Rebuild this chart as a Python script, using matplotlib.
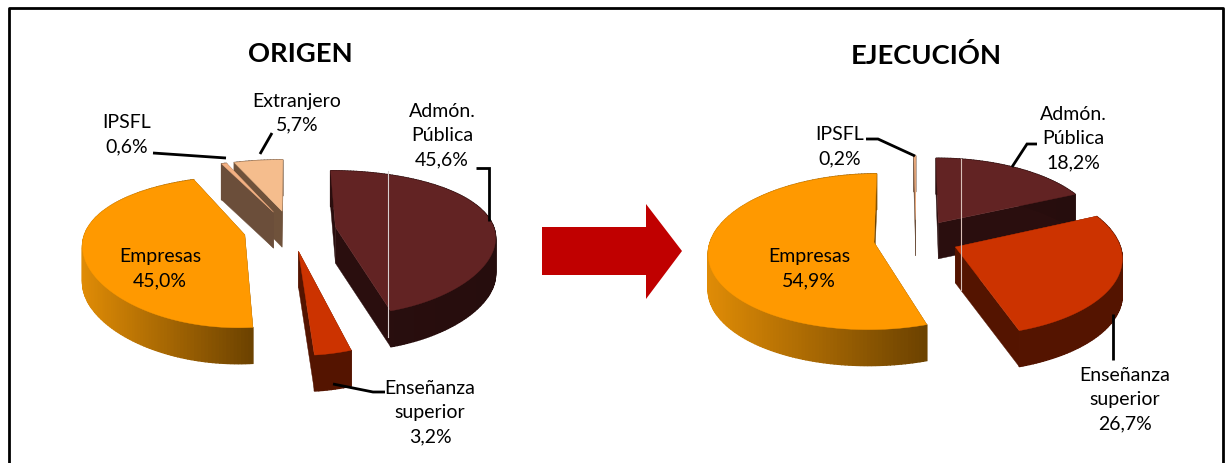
import numpy as np
import matplotlib
matplotlib.use("Agg")
import matplotlib.pyplot as plt
from matplotlib.patches import Polygon

plt.rcParams['font.family'] = ['Lato', 'DejaVu Sans']

# Data
categories_origen = ["Admón.\nPública", "Enseñanza\nsuperior", "Empresas", "IPSFL", "Extranjero"]
values_origen = [45.6, 3.2, 45.0, 0.6, 5.7]
categories_ejec = ["Admón.\nPública", "Enseñanza\nsuperior", "Empresas", "IPSFL"]
values_ejec = [18.2, 26.7, 54.9, 0.2]

# Styles: top colour, wall colour left, wall colour right, radial wall colour
style = {
    "Admón.\nPública": ("#622323", "#2a0e0e", "#260d0d", "#2a0e0e"),
    "Enseñanza\nsuperior": ("#cc3300", "#541400", "#541400", "#541400"),
    "Empresas": ("#ff9900", "#e08c06", "#6c4200", "#6c4200"),
    "IPSFL": ("#f4b183", "#6b4e3a", "#6b4e3a", "#6b4e3a"),
    "Extranjero": ("#f5bd8d", "#6f523b", "#6f523b", "#6f523b"),
}

fig = plt.figure(figsize=(12.32, 4.64), dpi=100)
ax = fig.add_axes([0, 0, 1, 1])
ax.set_xlim(0, 1232)
ax.set_ylim(464, 0)
ax.axis("off")


def hex2rgb(h):
    return np.array(matplotlib.colors.to_rgb(h))


def draw_pie(cats, vals, cx, cy, S, B, k, kx, D, e):
    total = sum(vals)
    edges = np.concatenate([[0], np.cumsum(vals)]) / total * 2 * np.pi

    def P(u, v, z=0.0):
        return cx + S * u / (1 - kx * v), cy + B * v / (1 - k * v) + D * z

    items = []
    for i, c in enumerate(cats):
        m = (edges[i] + edges[i + 1]) / 2
        items.append((-np.cos(m) * e, np.sin(m) * e, edges[i], edges[i + 1], c))
    items.sort(key=lambda it: it[0])

    for av, au, t0, t1, c in items:
        top, wl, wr, wrad = style[c]
        n = max(4, int((t1 - t0) / 0.02))
        th = np.linspace(t0, t1, n)
        us = au + np.sin(th)
        vs = av - np.cos(th)
        # radial walls
        for (ue, ve) in ((us[0], vs[0]), (us[-1], vs[-1])):
            q = [P(au, av), P(ue, ve), P(ue, ve, 1), P(au, av, 1)]
            ax.add_patch(Polygon(q, closed=True, fc=wrad, ec=wrad, lw=0.3, zorder=2))
        # outer wall with gradient
        xs = np.array([P(a, b)[0] for a, b in zip(us, vs)])
        lo, hi = xs.min(), xs.max()
        cl, cr = hex2rgb(wl), hex2rgb(wr)
        order = range(n - 1) if us[0] < us[-1] else range(n - 2, -1, -1)
        for j in order:
            f = (0.5 * (xs[j] + xs[j + 1]) - lo) / max(hi - lo, 1)
            col = cl * (1 - f) + cr * f
            q = [P(us[j], vs[j]), P(us[j + 1], vs[j + 1]), P(us[j + 1], vs[j + 1], 1), P(us[j], vs[j], 1)]
            ax.add_patch(Polygon(q, closed=True, fc=col, ec=col, lw=1.0, zorder=2))
        # top
        pts = [P(au, av)] + [P(a, b) for a, b in zip(us, vs)]
        ax.add_patch(Polygon(pts, closed=True, fc=top, ec=top, lw=0.3, zorder=2))


def lab(x, y, name, val):
    s = name + "\n" + f"{val:.1f}".replace(".", ",") + "%"
    ax.text(x, y, s, ha="center", va="center", fontsize=14, color="black", linespacing=1.5, zorder=5)


def line(pts):
    a = np.array(pts)
    ax.plot(a[:, 0], a[:, 1], color="black", lw=2.0, zorder=4, solid_capstyle="butt", solid_joinstyle="miter")


# frame
ax.plot([9, 9, 1223, 1223], [480, 8.5, 8.5, 480], color="black", lw=2, zorder=1, clip_on=True)

# Left pie
draw_pie(categories_origen, values_origen, cx=290, cy=231, S=159, B=70, k=0.22, kx=0.12, D=36, e=0.29)
# Right pie
draw_pie(categories_ejec, values_ejec, cx=916, cy=240, S=163, B=76, k=0.12, kx=0.12, D=36, e=0.26)

# seams
ax.plot([387.5, 387.5], [172, 338], color="#d9d0d0", lw=0.8, zorder=3)
ax.plot([961, 961], [160, 291], color="#d9c0b8", lw=0.8, zorder=3)

# arrow
ax.add_patch(Polygon([(542, 228), (646, 228), (646, 205), (682, 252), (646, 300), (646, 276), (542, 276)],
                     closed=True, fc="#c00000", ec="none", zorder=2))

# titles
ax.text(300, 54, "ORIGEN", ha="center", va="center", fontsize=19.7, fontweight="bold", zorder=5)
ax.text(926, 55, "EJECUCIÓN", ha="center", va="center", fontsize=19.7, fontweight="bold", zorder=5)

# leader lines
line([(153, 154), (226, 159)])
line([(272, 134), (260, 155)])
line([(476, 169), (488.5, 169), (488.5, 222)])
line([(333, 385), (373, 393), (385, 393)])
line([(866, 140), (878, 140), (915, 157)])
line([(1037, 145), (1027, 145), (1012, 168)])
line([(1113, 315), (1113, 361)])

# labels
lab(127, 135, "IPSFL", values_origen[3])
lab(297, 113, "Extranjero", values_origen[4])
lab(442, 136, "Admón.\nPública", values_origen[0])
lab(160, 269, "Empresas", values_origen[2])
lab(430, 413, "Enseñanza\nsuperior", values_origen[1])
lab(840, 147, "IPSFL", values_ejec[3])
lab(1073, 139, "Admón.\nPública", values_ejec[0])
lab(809, 269, "Empresas", values_ejec[2])
lab(1125, 400, "Enseñanza\nsuperior", values_ejec[1])

fig.savefig("out.png", dpi=100, facecolor="white")
